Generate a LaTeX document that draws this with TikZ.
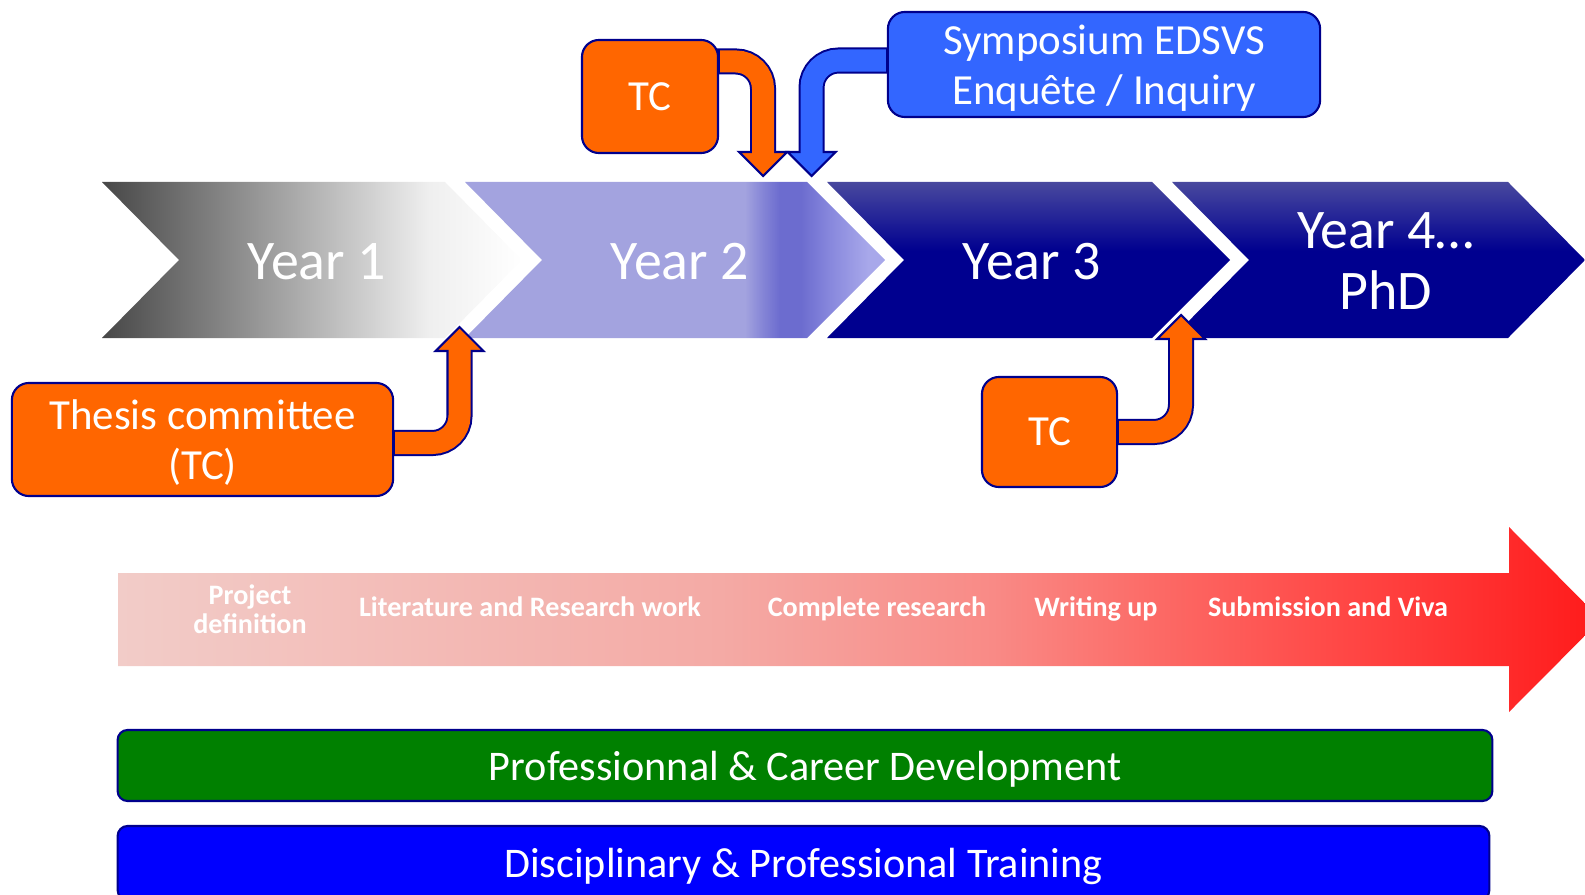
\documentclass[tikz,border=0pt]{standalone}
\usepackage{fontspec}
\setmainfont{Carlito}
\usetikzlibrary{calc}

\definecolor{tcorange}{RGB}{255,102,0}
\definecolor{tcedge}{RGB}{0,0,140}
\definecolor{symblue}{RGB}{51,102,255}
\definecolor{cargreen}{RGB}{0,128,0}
\definecolor{trainblue}{RGB}{0,0,255}
\definecolor{greyA}{RGB}{71,71,71}
\definecolor{greyB}{RGB}{239,239,239}
\definecolor{lavA}{RGB}{163,163,223}
\definecolor{lavB}{RGB}{132,132,214}
\definecolor{lavC}{RGB}{108,108,207}
\definecolor{lavD}{RGB}{136,136,221}
\definecolor{lavE}{RGB}{168,168,234}
\definecolor{navyA}{RGB}{0,0,143}
\definecolor{navyB}{RGB}{40,40,152}
\definecolor{navyC}{RGB}{72,72,158}
\definecolor{pinkA}{RGB}{242,204,200}
\definecolor{pinkB}{RGB}{244,170,165}
\definecolor{pinkC}{RGB}{249,138,134}
\definecolor{pinkD}{RGB}{252,106,102}
\definecolor{redD}{RGB}{255,74,72}
\definecolor{redE}{RGB}{255,45,45}
\definecolor{redF}{RGB}{255,26,26}

\pgfdeclarehorizontalshading{yearone}{100bp}{color(0bp)=(greyA); color(25bp)=(greyA); color(64bp)=(greyB); color(75bp)=(white); color(100bp)=(white)}
\pgfdeclarehorizontalshading{yeartwo}{100bp}{color(0bp)=(lavA); color(25bp)=(lavA); color(58.3bp)=(lavA); color(60.5bp)=(lavB); color(62.5bp)=(lavC); color(65bp)=(lavC); color(68.5bp)=(lavD); color(73bp)=(lavE); color(100bp)=(lavE)}
\pgfdeclareverticalshading{yearnavy}{100bp}{color(0bp)=(navyA); color(25bp)=(navyA); color(53bp)=(navyA); color(65bp)=(navyB); color(75bp)=(navyC); color(100bp)=(navyC)}
\pgfdeclarehorizontalshading{redflow}{100bp}{color(0bp)=(pinkA); color(25bp)=(pinkA); color(45.3bp)=(pinkB); color(54.5bp)=(pinkC); color(60bp)=(pinkD); color(65.8bp)=(redD); color(71.3bp)=(redE); color(75bp)=(redF); color(100bp)=(redF)}

\begin{document}
\begin{tikzpicture}[
			x=0.01cm, y=-0.01cm,
			yrtext/.style = {text=white, font=\fontsize{15.9}{17.5}\selectfont, align=center, inner sep=0pt},
			tcbox/.style = {rectangle, draw=tcedge, line width=0.6pt, rounded corners=0.17cm, fill=tcorange, text=white, font=\fontsize{12.2}{14.3}\selectfont, align=center, inner sep=0pt, text depth=0pt},
			symbox/.style = {tcbox, fill=symblue},
			bandbox/.style = {rectangle, draw=tcedge, line width=0.6pt, rounded corners=0.1cm, text=white, font=\fontsize{12}{14}\selectfont, inner sep=0pt, text depth=0pt},
			phase/.style = {text=white, font=\bfseries\fontsize{8}{8.4}\selectfont, align=center, inner sep=0pt},
			shaftout/.style = {draw=tcedge, line width=0.26cm, rounded corners=0.27cm},
			shaftin/.style = {line width=0.22cm, rounded corners=0.27cm},
			arrowhd/.style = {draw=tcedge, line width=0.6pt, line join=miter},
		]
			\useasboundingbox (0,0) rectangle (1585,894);

			% years
			\shade[shading=yearone] (102,182) -- (445,182) -- (522,260) -- (445,338) -- (102,338) -- (179,260) -- cycle;
			\shade[shading=yeartwo] (465,182) -- (807,182) -- (885,260) -- (807,338) -- (465,338) -- (542,260) -- cycle;
			\shade[shading=yearnavy] (827,182) -- (1152,182) -- (1230,260) -- (1152,338) -- (827,338) -- (904,260) -- cycle;
			\shade[shading=yearnavy] (1172,182) -- (1508,182) -- (1585,260) -- (1508,338) -- (1172,338) -- (1249,260) -- cycle;
			\node[yrtext, anchor=base] (y1) at (317,279) {Year 1};
			\node[yrtext, anchor=base] (y2) at (680,279) {Year 2};
			\node[yrtext, anchor=base] (y3) at (1032,279) {Year 3};
			\node[yrtext] (y4) at (1386,261) {Year 4…\\PhD};

			% boxes
			\node[tcbox, minimum width=1.36cm, minimum height=1.13cm] (tca) at (650,96.5) {TC};
			\node[symbox, minimum width=4.32cm, minimum height=1.05cm] (sym) at (1104,64.5) {Symposium EDSVS\\Enquête / Inquiry};
			\node[tcbox, minimum width=3.81cm, minimum height=1.13cm] (th) at (202.5,439.5) {Thesis committee\\(TC)};
			\node[tcbox, minimum width=1.35cm, minimum height=1.10cm] (tcb) at (1049.5,432) {TC};

			% phases
			\shade[shading=redflow] (118,573) -- (1509,573) -- (1509,527) -- (1601,619.5) -- (1509,712) -- (1509,666) -- (118,666) -- cycle;
			\node[phase] (pdef) at (250,609) {Project\\definition};
			\node[phase, anchor=base] (lit) at (530,616) {Literature and Research work};
			\node[phase, anchor=base] (comp) at (877,616) {Complete research};
			\node[phase, anchor=base] (wri) at (1096,616) {Writing up};
			\node[phase, anchor=base] (sub) at (1328,616) {Submission and Viva};

			% bands
			\node[bandbox, fill=cargreen, minimum width=13.74cm, minimum height=0.71cm] (pcd) at (805,765.5) {Professionnal \& Career Development};
			\node[bandbox, fill=trainblue, minimum width=13.71cm, minimum height=0.74cm] (dpt) at (803.5,863) {Disciplinary \& Professional Training};

			% arrows
			\coordinate (tipa) at (763,176);
			\coordinate (tipb) at (811.5,176);
			\coordinate (tipc) at (459.5,327);
			\coordinate (tipd) at (1181,315);

			\draw[shaftout] ([xshift=-0.02cm, yshift=0.35cm]tca.east) -| ($(tipa)+(0,-24)$);
			\filldraw[arrowhd, fill=tcorange] (tipa) -- ++(-24,-24) -- ++(48,0) -- cycle;
			\draw[shaftin, draw=tcorange] ([xshift=0.01cm, yshift=0.35cm]tca.east) -| ($(tipa)+(0,-22)$);

			\draw[shaftout] ([xshift=0.02cm, yshift=0.04cm]sym.west) -| ($(tipb)+(0,-24)$);
			\filldraw[arrowhd, fill=symblue] (tipb) -- ++(-24,-24) -- ++(48,0) -- cycle;
			\draw[shaftin, draw=symblue] ([xshift=-0.01cm, yshift=0.04cm]sym.west) -| ($(tipb)+(0,-22)$);

			\draw[shaftout] ([xshift=-0.02cm, yshift=-0.035cm]th.east) -| ($(tipc)+(0,24)$);
			\filldraw[arrowhd, fill=tcorange] (tipc) -- ++(-24,24) -- ++(48,0) -- cycle;
			\draw[shaftin, draw=tcorange] ([xshift=0.01cm, yshift=-0.035cm]th.east) -| ($(tipc)+(0,22)$);

			\draw[shaftout] ([xshift=-0.02cm]tcb.east) -| ($(tipd)+(0,24)$);
			\filldraw[arrowhd, fill=tcorange] (tipd) -- ++(-24,24) -- ++(48,0) -- cycle;
			\draw[shaftin, draw=tcorange] ([xshift=0.01cm]tcb.east) -| ($(tipd)+(0,22)$);
		\end{tikzpicture}
\end{document}
